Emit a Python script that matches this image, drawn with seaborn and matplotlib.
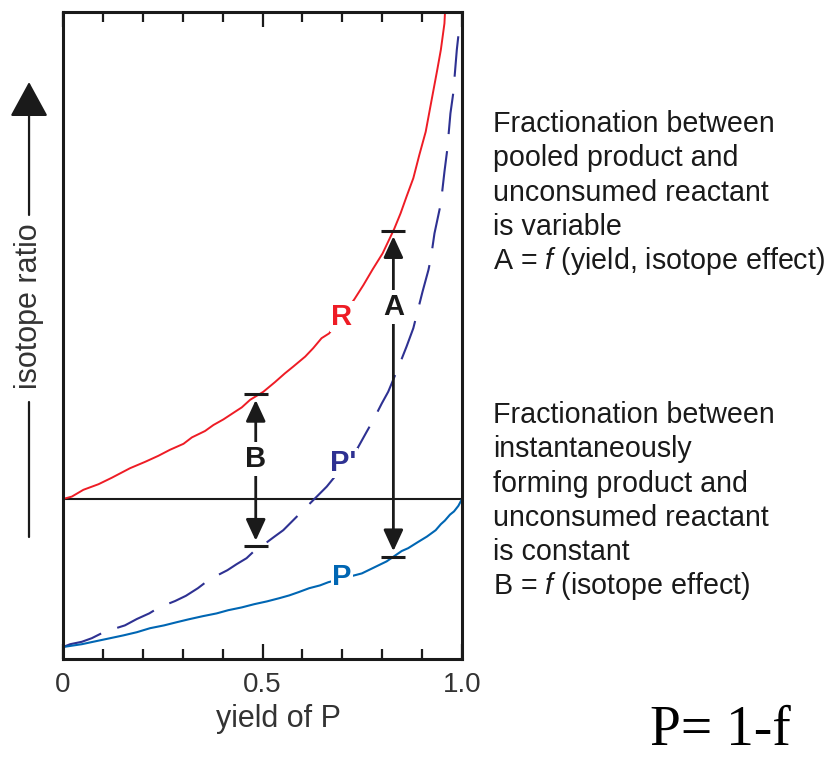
import numpy as np
import seaborn as sns
import matplotlib.pyplot as plt
from matplotlib.ticker import FixedLocator, MultipleLocator

# values (y = isotope ratio, 0 = starting reactant)
# R: unconsumed reactant
yield_r = [0, 0.022, 0.051, 0.089, 0.122, 0.168, 0.206, 0.239, 0.268, 0.302, 0.323, 0.356,
           0.377, 0.402, 0.431, 0.448, 0.469, 0.502, 0.531, 0.556, 0.577, 0.607, 0.627, 0.648,
           0.667, 0.730, 0.753, 0.776, 0.801, 0.830, 0.846, 0.861, 0.878, 0.893, 0.909, 0.923,
           0.938, 0.947, 0.956, 0.958]
ratio_r = [0, 0.06, 0.23, 0.37, 0.53, 0.77, 0.93, 1.08, 1.23, 1.38, 1.54, 1.70,
           1.85, 1.99, 2.18, 2.29, 2.48, 2.68, 2.92, 3.14, 3.31, 3.56, 3.77, 4.02,
           4.14, 4.99, 5.35, 5.74, 6.14, 6.75, 7.14, 7.56, 8.02, 8.60, 9.18, 9.93,
           10.73, 11.23, 11.89, 12.3]

# P': instantaneously forming product
yield_pinst = [0, 0.018, 0.047, 0.072, 0.104, 0.155, 0.185, 0.216, 0.241, 0.281, 0.308, 0.338,
               0.367, 0.412, 0.435, 0.460, 0.477, 0.491, 0.530, 0.552, 0.576, 0.598, 0.638, 0.661,
               0.736, 0.761, 0.778, 0.799, 0.815, 0.838, 0.861, 0.878, 0.901, 0.916, 0.922, 0.931,
               0.947, 0.956, 0.963, 0.971, 0.978, 0.987, 0.993, 1.0]
ratio_pinst = [-3.70, -3.63, -3.57, -3.48, -3.32, -3.16, -3.00, -2.86, -2.71, -2.55, -2.42, -2.23,
               -2.01, -1.78, -1.63, -1.48, -1.32, -1.23, -0.94, -0.78, -0.54, -0.32, 0.08, 0.31,
               1.23, 1.68, 1.98, 2.39, 2.68, 3.23, 3.81, 4.27, 5.18, 5.73, 6.02, 6.64,
               7.39, 8.18, 8.73, 9.64, 10.14, 11.23, 11.77, 11.98]

# P: pooled product
yield_p = [0, 0.047, 0.080, 0.118, 0.151, 0.185, 0.218, 0.253, 0.285, 0.314, 0.350, 0.385,
           0.414, 0.448, 0.479, 0.511, 0.542, 0.567, 0.590, 0.617, 0.644, 0.665, 0.749, 0.780,
           0.811, 0.849, 0.865, 0.889, 0.912, 0.934, 0.947, 0.957, 0.970, 0.980, 0.991, 1.0]
ratio_p = [-3.70, -3.63, -3.56, -3.48, -3.41, -3.33, -3.23, -3.16, -3.08, -3.01, -2.93, -2.86,
           -2.78, -2.71, -2.63, -2.56, -2.48, -2.41, -2.33, -2.23, -2.16, -2.08, -1.86, -1.71,
           -1.56, -1.30, -1.23, -1.08, -0.94, -0.78, -0.63, -0.54, -0.39, -0.31, -0.17, 0]

xtick_vals = [0, 0.5, 1.0]
xtick_labels = ['0', '0.5', '1.0']

RED = '#ee1c25'
NAVY = '#2e3192'
BLUE = '#0066b3'
INK = '#1a1a1a'

sns.set_style('white')
plt.rcParams['font.family'] = ['Liberation Sans', 'DejaVu Sans']
plt.rcParams['mathtext.fontset'] = 'custom'
plt.rcParams['mathtext.rm'] = 'Liberation Sans'
plt.rcParams['mathtext.it'] = 'Liberation Sans:italic'

fig = plt.figure(figsize=(8.25, 7.58), dpi=100)
ax = fig.add_axes([0.0764, 0.1306, 0.4836, 0.8536])

sns.lineplot(x=yield_r, y=ratio_r, color=RED, lw=1.4, ax=ax, estimator=None, sort=False, legend=False)
sns.lineplot(x=yield_pinst, y=ratio_pinst, color=NAVY, lw=1.5, linestyle=(0, (19.5, 8.2)), ax=ax,
             estimator=None, sort=False, legend=False)
sns.lineplot(x=yield_p, y=ratio_p, color=BLUE, lw=1.5, ax=ax, estimator=None, sort=False, legend=False)
ax.axhline(0, color=INK, lw=1.5, zorder=1)

ax.set_xlim(0, 1)
ax.set_ylim(-4.0, 12.175)
for s in ax.spines.values():
    s.set_linewidth(2.2)
    s.set_color(INK)

ax.xaxis.set_major_locator(FixedLocator(xtick_vals))
ax.xaxis.set_minor_locator(MultipleLocator(0.1))
ax.set_xticklabels(xtick_labels, fontsize=20, color='#333333')
ax.tick_params(axis='x', which='both', direction='in', top=True, bottom=True, width=1.6, color=INK, pad=9)
ax.tick_params(axis='x', which='major', length=11)
ax.tick_params(axis='x', which='minor', length=7)
ax.set_yticks([])
ax.set_xlabel('yield of P', fontsize=22, color='#333333')
ax.xaxis.set_label_coords(0.54, -0.07)


def gap_arrow(x, top, bottom, label, label_y):
    ax.annotate('', xy=(x, top), xytext=(x, bottom),
                arrowprops=dict(arrowstyle='<|-|>,head_length=1.3,head_width=0.6', color=INK,
                                lw=2, shrinkA=4, shrinkB=4, mutation_scale=10))
    ax.hlines([top, bottom], x - 0.03, x + 0.03, color=INK, lw=2.2)
    ax.text(x, label_y, label, ha='center', va='center', fontsize=21, fontweight='bold', color=INK,
            bbox=dict(fc='white', ec='none', pad=2))


xb, xa = 0.483, 0.828
gap_arrow(xb, np.interp(xb, yield_r, ratio_r) + 0.05, np.interp(xb, yield_pinst, ratio_pinst) + 0.1, 'B', 1.0)
gap_arrow(xa, np.interp(xa, yield_r, ratio_r), np.interp(xa, yield_p, ratio_p), 'A', 4.81)

lab_box = dict(fc='white', ec='none', pad=1)
ax.text(0.699, 4.56, 'R', color=RED, fontsize=21, fontweight='bold', ha='center', va='center', bbox=lab_box)
ax.text(0.702, 0.9, "P'", color=NAVY, fontsize=21, fontweight='bold', ha='center', va='center', bbox=lab_box)
ax.text(0.699, -1.95, 'P', color=BLUE, fontsize=21, fontweight='bold', ha='center', va='center', bbox=lab_box)

# y axis label with arrow
fig.text(0.0352, 0.596, 'isotope ratio', rotation=90, fontsize=22, color='#333333', ha='center', va='center')
ax.annotate('', xy=(0.0352, 0.8918), xytext=(0.0352, 0.7164), xycoords='figure fraction',
            textcoords='figure fraction', annotation_clip=False,
            arrowprops=dict(arrowstyle='-|>,head_length=2.2,head_width=1.2', color=INK, lw=1.6,
                            shrinkA=0, shrinkB=0, mutation_scale=10))
fig.add_artist(plt.Line2D([0.0352, 0.0352], [0.4697, 0.2916], transform=fig.transFigure, color=INK, lw=1.6))

# explanation text on the right
block_a = ['Fractionation between', 'pooled product and', 'unconsumed reactant', 'is variable',
           r'A = $\it{f}$ (yield, isotope effect)']
block_b = ['Fractionation between', 'instantaneously', 'forming product and', 'unconsumed reactant',
           'is constant', r'B = $\it{f}$ (isotope effect)']
step = 34.3
for base, block in [(132, block_a), (423, block_b)]:
    for i, line in enumerate(block):
        fig.text(493 / 825, 1 - (base + i * step) / 758, line, fontsize=20.6, color=INK, va='baseline')

fig.text(0.873, 13 / 758, 'P= 1-f', fontsize=40, family='Liberation Serif', color='black',
         ha='center', va='baseline')

fig.savefig('out.png', dpi=100)
